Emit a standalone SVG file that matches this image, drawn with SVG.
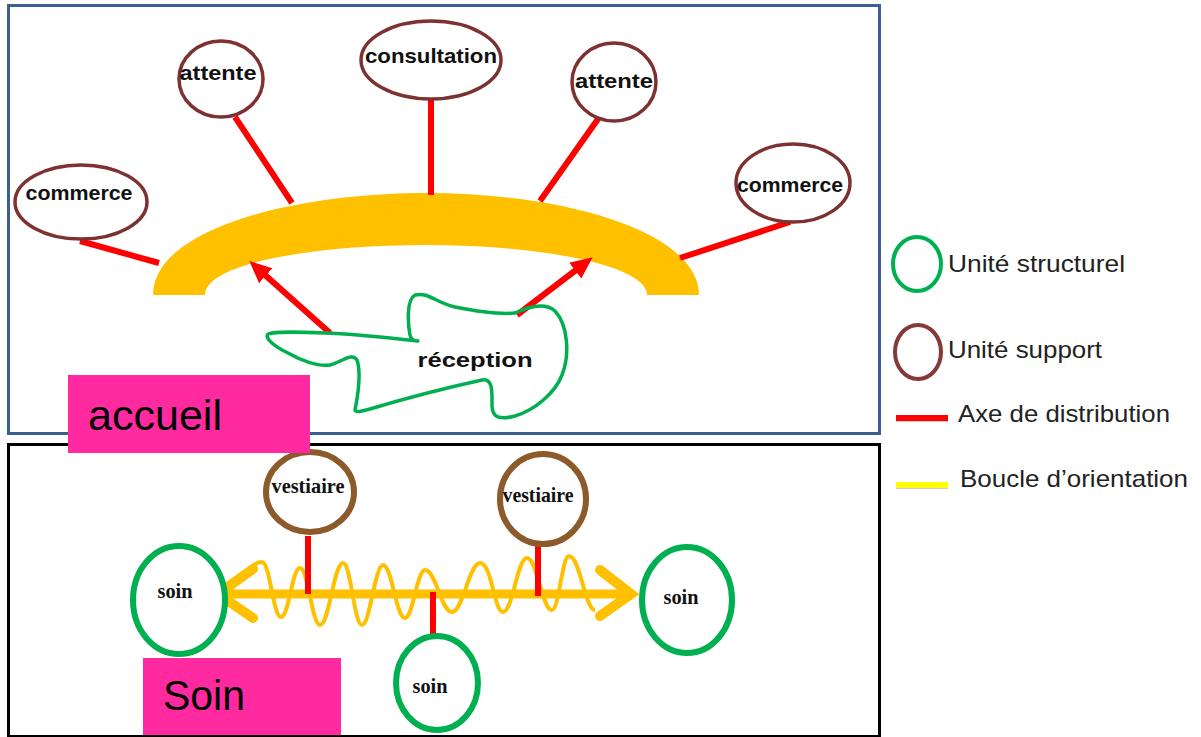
<svg xmlns="http://www.w3.org/2000/svg" width="1201" height="737" viewBox="0 0 1201 737">
<defs>
<style>
.frameA{fill:none;stroke:#3B5E95;stroke-width:3}
.frameB{fill:none;stroke:#000;stroke-width:3}
.sup{fill:#fff;stroke:#7E3131;stroke-width:3.5}
.ves{fill:#fff;stroke:#8C5A2B;stroke-width:6}
.str{fill:#fff;stroke:#00B050;stroke-width:6}
.red{stroke:#FF0000;stroke-width:6;fill:none}
.org{stroke:#FFC000;fill:none}
.lblT{font-family:"Liberation Sans",Arial,sans-serif;font-weight:bold;font-size:21px;fill:#111;text-anchor:middle}
.lblS{font-family:"Liberation Serif","Times New Roman",serif;font-weight:bold;font-size:21px;fill:#111;text-anchor:middle}
.leg{font-family:"Liberation Sans",Arial,sans-serif;font-size:24px;fill:#222}
.pinkT{font-family:"Liberation Sans",Arial,sans-serif;font-size:42px;fill:#000}
.pink{fill:#FF2AA0}
</style>
<marker id="ah" markerUnits="userSpaceOnUse" markerWidth="22" markerHeight="22" viewBox="0 0 22 22" refX="1" refY="11" orient="auto">
<path d="M0,1 L22,11 L0,21 Z" fill="#FF0000"/>
</marker>
</defs>
<rect width="1201" height="737" fill="#fff"/>

<!-- frames -->
<rect class="frameA" x="8.5" y="5.5" width="871" height="428"/>
<rect class="frameB" x="8.5" y="444.5" width="871" height="292"/>

<!-- orientation arch -->
<g id="boucle-accueil">
<path d="M153,295 C153,230 290,193 427,193 C565,193 699,232 699,295 L647,295 C647,265 540,245 426,245 C315,245 205,263 205,295 Z" fill="#FFC000"/>
</g>

<!-- bottom orientation loop -->
<g id="boucle-soin">
<path class="org" stroke-width="4" d="M244,578 C250,566 256,562 262,562 C270,562 273,617 281,617 C289,617 292,568 300,568 C308,568 312,625 320,625 C329,625 334,563 343,563 C351,563 354,625 362,625 C370,625 375,565 383,565 C392,565 396,618 405,618 C413,618 417,570 425,570 C436,570 441,612 452,612 C463,612 469,563 480,563 C492,563 494,612 503,612 C513,612 517,558 527,558 C537,558 542,610 552,610 C559,610 562,556 569,556 C580,556 585,610 595,610"/>
<line class="org" stroke-width="9" x1="220" y1="594" x2="628" y2="594"/>
<polyline class="org" stroke-width="10" stroke-linecap="round" stroke-linejoin="miter" points="253,569 218,594 253,618"/>
<polyline class="org" stroke-width="10" stroke-linecap="round" stroke-linejoin="miter" points="600,570 631,594 600,616"/>
</g>

<!-- connectors -->
<g id="connectors">
<line class="red" x1="80" y1="241" x2="159" y2="263"/>
<line class="red" x1="235" y1="117" x2="292" y2="203"/>
<line class="red" x1="431" y1="99" x2="431" y2="195"/>
<line class="red" x1="598" y1="119" x2="540" y2="201"/>
<line class="red" x1="790" y1="222" x2="680" y2="258"/>
<line class="red" x1="330" y1="333" x2="265" y2="275" marker-end="url(#ah)"/>
<line class="red" x1="517" y1="315" x2="576" y2="270" marker-end="url(#ah)"/>
<line class="red" x1="308" y1="536" x2="308" y2="594"/>
<line class="red" x1="538" y1="534" x2="538" y2="596"/>
<line class="red" x1="433" y1="592" x2="433" y2="652"/>
</g>

<!-- top nodes -->
<g id="commerce-1">
<ellipse class="sup" cx="81" cy="202" rx="66" ry="37"/>
<text class="lblT" x="79" y="200" textLength="107" lengthAdjust="spacingAndGlyphs">commerce</text>
</g>
<g id="attente-1">
<ellipse class="sup" cx="221" cy="79" rx="42" ry="38"/>
<text class="lblT" x="218" y="80" textLength="77" lengthAdjust="spacingAndGlyphs">attente</text>
</g>
<g id="consultation">
<ellipse class="sup" cx="431" cy="60" rx="70" ry="39"/>
<text class="lblT" x="431" y="63" textLength="132" lengthAdjust="spacingAndGlyphs">consultation</text>
</g>
<g id="attente-2">
<ellipse class="sup" cx="614" cy="82" rx="42" ry="39"/>
<text class="lblT" x="614" y="88" textLength="78" lengthAdjust="spacingAndGlyphs">attente</text>
</g>
<g id="commerce-2">
<ellipse class="sup" cx="793" cy="183" rx="57" ry="39"/>
<text class="lblT" x="790" y="192" textLength="106" lengthAdjust="spacingAndGlyphs">commerce</text>
</g>
<g id="reception">
<path d="M418,341 C400,339 350,334 328,333 C300,332 275,331 268,334 C264,338 275,347 288,353 C300,360 318,367 330,365 C342,362 352,352 357,360 C361,372 358,395 355,410 C356,413 362,411 370,409 C400,400 450,387 482,380 C493,378 492,392 492,405 C492,418 500,420 515,416 C535,410 555,393 562,375 C570,355 568,325 555,311 C545,302 530,306 515,313 C495,315 470,310 455,307 C435,302 428,292 415,295 C406,300 408,325 410,335 C411,340 414,341 418,341 Z" fill="none" stroke="#00B050" stroke-width="3.5" stroke-linejoin="round"/>
<text class="lblT" x="475" y="367" font-size="23" textLength="115" lengthAdjust="spacingAndGlyphs">réception</text>
</g>

<!-- bottom nodes -->
<g id="vestiaire-1">
<ellipse class="ves" cx="310" cy="492" rx="44" ry="40"/>
<text class="lblS" x="308" y="493" font-size="22" textLength="73" lengthAdjust="spacingAndGlyphs">vestiaire</text>
</g>
<g id="vestiaire-2">
<ellipse class="ves" cx="543" cy="499" rx="43" ry="45"/>
<text class="lblS" x="538" y="502" font-size="22" textLength="71" lengthAdjust="spacingAndGlyphs">vestiaire</text>
</g>
<g id="soin-1">
<ellipse class="str" cx="179" cy="600" rx="46" ry="54"/>
<text class="lblS" x="175" y="598" textLength="35" lengthAdjust="spacingAndGlyphs">soin</text>
</g>
<g id="soin-2">
<ellipse class="str" cx="687" cy="600" rx="45" ry="53"/>
<text class="lblS" x="681" y="604" textLength="35" lengthAdjust="spacingAndGlyphs">soin</text>
</g>
<g id="soin-3">
<ellipse class="str" cx="437" cy="683" rx="41" ry="47"/>
<text class="lblS" x="430" y="693" textLength="35" lengthAdjust="spacingAndGlyphs">soin</text>
</g>

<!-- zone labels -->
<g id="accueil">
<rect class="pink" x="68" y="375" width="242" height="78"/>
<text class="pinkT" x="88" y="430" textLength="134" lengthAdjust="spacingAndGlyphs">accueil</text>
</g>
<g id="soin-zone">
<rect class="pink" x="143" y="658" width="198" height="77"/>
<text class="pinkT" x="163" y="710" textLength="82" lengthAdjust="spacingAndGlyphs">Soin</text>
</g>

<!-- legend -->
<g id="legend">
<ellipse cx="917" cy="264" rx="24" ry="27" fill="none" stroke="#00B050" stroke-width="4"/>
<text class="leg" x="948" y="272" textLength="177" lengthAdjust="spacingAndGlyphs">Unité structurel</text>
<ellipse cx="918" cy="352" rx="23" ry="27" fill="none" stroke="#843A3A" stroke-width="4"/>
<text class="leg" x="948" y="358" textLength="154" lengthAdjust="spacingAndGlyphs">Unité support</text>
<line x1="896" y1="420" x2="948" y2="420" stroke="#999" stroke-width="4" opacity="0.5"/>
<line x1="896" y1="418" x2="948" y2="418" stroke="#FF0000" stroke-width="6"/>
<text class="leg" x="958" y="422" textLength="212" lengthAdjust="spacingAndGlyphs">Axe de distribution</text>
<line x1="896" y1="487" x2="948" y2="487" stroke="#999" stroke-width="4" opacity="0.5"/>
<line x1="896" y1="485" x2="948" y2="485" stroke="#FFFF00" stroke-width="6"/>
<text class="leg" x="960" y="487" textLength="228" lengthAdjust="spacingAndGlyphs">Boucle d’orientation</text>
</g>
</svg>
